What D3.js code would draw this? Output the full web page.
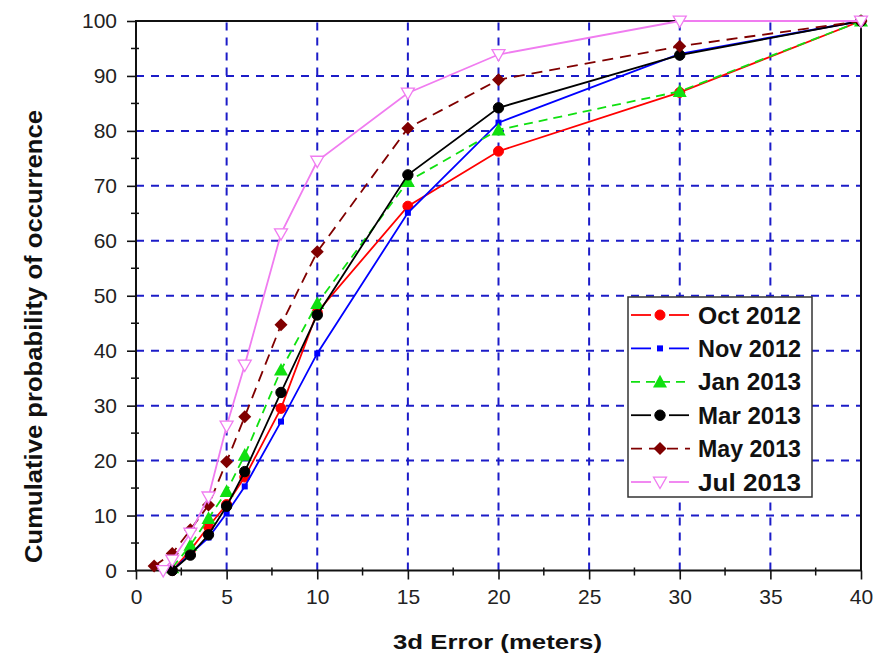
<!DOCTYPE html>
<html>
<head>
<meta charset="utf-8">
<script src="https://cdn.jsdelivr.net/npm/d3@7"></script>
<style>
  html, body { margin: 0; padding: 0; background: #fff; }
  svg { display: block; font-family: "Liberation Sans", Arial, sans-serif; }
</style>
</head>
<body>
<svg id="chart" width="884" height="656"></svg>
<script>
// ---- data ----
const seriesNames = ["Oct 2012", "Nov 2012", "Jan 2013", "Mar 2013", "May 2013", "Jul 2013"];
const xStd = [2, 3, 4, 5, 6, 8, 10, 15, 20, 30, 40];
const xMay = [1, 2, 3, 4, 5, 6, 8, 10, 15, 20, 30, 40];
const xJul = [1.5, 2, 3, 4, 5, 6, 8, 10, 15, 20, 30, 40];
const oct2012 = [0, 3.7, 8, 12, 17, 29.5, 47, 66.3, 76.3, 87, 100];
const nov2012 = [0, 3, 6, 10.4, 15.3, 27.1, 39.5, 65.1, 81.5, 94, 100];
const jan2013 = [0.5, 4.6, 9.5, 14.4, 21, 36.5, 48.6, 70.8, 80.2, 87.2, 100];
const mar2013 = [0, 2.8, 6.5, 11.7, 18, 32.4, 46.5, 72, 84.2, 93.8, 100];
const may2013 = [0.8, 3.1, 7.4, 11.9, 19.8, 28, 44.7, 58, 80.5, 89.3, 95.4, 100];
const jul2013 = [0, 1.9, 6.8, 13.4, 26.3, 37.4, 61.3, 74.5, 86.9, 93.9, 100, 100];
const xTicks = [0, 5, 10, 15, 20, 25, 30, 35, 40];
const yTicks = [0, 10, 20, 30, 40, 50, 60, 70, 80, 90, 100];
const xTitle = "3d Error (meters)";
const yTitle = "Cumulative probability of occurrence";

// ---- styles ----
const styles = [
  { color: "#ff0000", dash: null,   marker: "circle",   size: 5,   fill: "#ff0000" },
  { color: "#0000ff", dash: null,   marker: "square",   size: 3,   fill: "#0000ff" },
  { color: "#10e010", dash: "9,6",  marker: "triangle", size: 7,   fill: "#10e010" },
  { color: "#000000", dash: null,   marker: "circle",   size: 5.2, fill: "#000000" },
  { color: "#800000", dash: "11,7", marker: "diamond",  size: 6.5, fill: "#800000" },
  { color: "#f07cf0", dash: null,   marker: "tridown",  size: 6.5, fill: "#ffffff" }
];
const series = [
  { name: seriesNames[0], xs: xStd, ys: oct2012 },
  { name: seriesNames[1], xs: xStd, ys: nov2012 },
  { name: seriesNames[2], xs: xStd, ys: jan2013 },
  { name: seriesNames[3], xs: xStd, ys: mar2013 },
  { name: seriesNames[4], xs: xMay, ys: may2013 },
  { name: seriesNames[5], xs: xJul, ys: jul2013 }
];

const svg = d3.select("#chart");
const L = 136, R = 861, T = 21, B = 570.5;
const x = d3.scaleLinear().domain([0, 40]).range([L, R]);
const y = d3.scaleLinear().domain([0, 100]).range([B, T]);

// grid
const grid = svg.append("g");
grid.selectAll(".gx").data(xTicks.filter(d => d > 0 && d < 40)).enter().append("line")
  .attr("x1", d => x(d)).attr("x2", d => x(d)).attr("y1", B).attr("y2", T)
  .attr("stroke", "#1c1cc8").attr("stroke-width", 2).attr("stroke-dasharray", "8,7");
grid.selectAll(".gy").data(yTicks.filter(d => d > 0 && d < 100)).enter().append("line")
  .attr("y1", d => y(d)).attr("y2", d => y(d)).attr("x1", L).attr("x2", R)
  .attr("stroke", "#1c1cc8").attr("stroke-width", 2).attr("stroke-dasharray", "8,7");

// axes
const xAxis = d3.axisBottom(x).tickValues(xTicks).tickSize(9).tickPadding(10);
const yAxis = d3.axisLeft(y).tickValues(yTicks).tickSize(9).tickPadding(10);
const gx = svg.append("g").attr("transform", `translate(0,${B})`).call(xAxis);
const gy = svg.append("g").attr("transform", `translate(${L},0)`).call(yAxis);
[gx, gy].forEach(g => {
  g.select(".domain").remove();
  g.selectAll("line").attr("stroke", "#111").attr("stroke-width", 1.6);
  g.selectAll("text").attr("fill", "#222").style("font-size", "21px");
});
// minor ticks
const xMinor = d3.range(2.5, 40, 5);
const yMinor = d3.range(5, 100, 10);
svg.append("g").selectAll("line").data(xMinor).enter().append("line")
  .attr("x1", d => x(d)).attr("x2", d => x(d)).attr("y1", B - 3).attr("y2", B + 5)
  .attr("stroke", "#111").attr("stroke-width", 1.5);
svg.append("g").selectAll("line").data(yMinor).enter().append("line")
  .attr("y1", d => y(d)).attr("y2", d => y(d)).attr("x1", L - 5).attr("x2", L + 3)
  .attr("stroke", "#111").attr("stroke-width", 1.5);
// frame
svg.append("rect").attr("x", L).attr("y", T).attr("width", R - L).attr("height", B - T)
  .attr("fill", "none").attr("stroke", "#111").attr("stroke-width", 2);

// series
const line = d3.line().x(d => x(d[0])).y(d => y(d[1]));
function drawMarker(g, kind, s, fill, color) {
  if (kind === "circle") {
    g.append("circle").attr("r", s).attr("fill", fill).attr("stroke", color).attr("stroke-width", 1);
  } else if (kind === "square") {
    g.append("rect").attr("x", -s).attr("y", -s).attr("width", 2 * s).attr("height", 2 * s).attr("fill", fill);
  } else if (kind === "triangle") {
    g.append("path").attr("d", `M0,${-s}L${s},${s * 0.8}L${-s},${s * 0.8}Z`).attr("fill", fill);
  } else if (kind === "diamond") {
    g.append("path").attr("d", `M0,${-s}L${s},0L0,${s}L${-s},0Z`).attr("fill", fill);
  } else if (kind === "tridown") {
    g.append("path").attr("d", `M${-s},${-s * 0.75}L${s},${-s * 0.75}L0,${s}Z`)
      .attr("fill", fill).attr("stroke", color).attr("stroke-width", 1.3);
  }
}
series.forEach((sr, i) => {
  const st = styles[i];
  const pts = sr.xs.map((v, k) => [v, sr.ys[k]]);
  svg.append("path").datum(pts).attr("d", line).attr("fill", "none")
    .attr("stroke", st.color).attr("stroke-width", 1.8)
    .attr("stroke-dasharray", st.dash);
  const mg = svg.append("g");
  pts.forEach(p => {
    const g = mg.append("g").attr("transform", `translate(${x(p[0])},${y(p[1])})`);
    drawMarker(g, st.marker, st.size, st.fill, st.color);
  });
});

// legend
const lg = svg.append("g");
lg.append("rect").attr("x", 628).attr("y", 297).attr("width", 184).attr("height", 200)
  .attr("fill", "#fff").attr("stroke", "#333").attr("stroke-width", 1.5);
series.forEach((sr, i) => {
  const st = styles[i];
  const cy = 315 + i * 33.4;
  if (st.dash) {
    lg.append("line").attr("x1", 631).attr("x2", 690).attr("y1", cy).attr("y2", cy)
      .attr("stroke", st.color).attr("stroke-width", 1.8).attr("stroke-dasharray", st.dash);
  } else {
    [[631, 651], [669, 689]].forEach(seg => {
      lg.append("line").attr("x1", seg[0]).attr("x2", seg[1]).attr("y1", cy).attr("y2", cy)
        .attr("stroke", st.color).attr("stroke-width", 1.8);
    });
  }
  const g = lg.append("g").attr("transform", `translate(660,${cy})`);
  drawMarker(g, st.marker, st.size, st.fill, st.color);
  lg.append("text").attr("x", 698).attr("y", cy + 8.5).text(sr.name)
    .attr("textLength", 103).attr("lengthAdjust", "spacingAndGlyphs")
    .style("font-size", "23.5px").style("font-weight", "bold").attr("fill", "#111");
});

// titles
svg.append("text").attr("x", 497.5).attr("y", 648.5).attr("text-anchor", "middle")
  .attr("textLength", 209).attr("lengthAdjust", "spacingAndGlyphs")
  .style("font-size", "21px").style("font-weight", "bold").attr("fill", "#111").text(xTitle);
svg.append("text").attr("transform", "translate(42,336.5) rotate(-90)").attr("text-anchor", "middle")
  .attr("textLength", 453).attr("lengthAdjust", "spacingAndGlyphs")
  .style("font-size", "24px").style("font-weight", "bold").attr("fill", "#111").text(yTitle);
</script>
</body>
</html>
